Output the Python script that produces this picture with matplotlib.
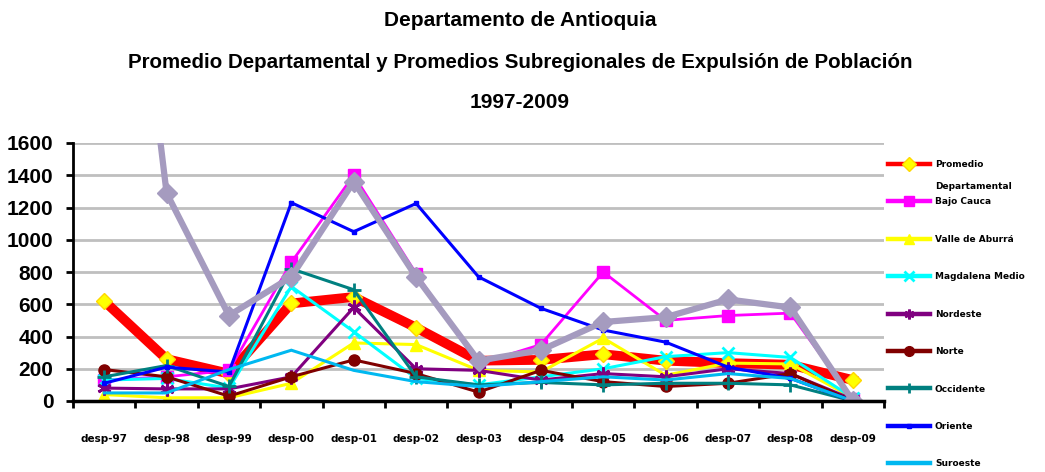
import matplotlib
matplotlib.use("Agg")
import matplotlib.pyplot as plt

categories = ["desp-97", "desp-98", "desp-99", "desp-00", "desp-01", "desp-02", "desp-03",
              "desp-04", "desp-05", "desp-06", "desp-07", "desp-08", "desp-09"]

promedio = [620, 260, 170, 605, 645, 455, 250, 255, 290, 250, 235, 225, 130]
bajo_cauca = [130, 150, 190, 860, 1400, 790, 230, 350, 800, 500, 530, 545, 10]
valle_aburra = [40, 20, 20, 110, 360, 350, 190, 180, 390, 160, 235, 230, 20]
magdalena_medio = [130, 140, 80, 710, 430, 140, 100, 150, 200, 275, 300, 270, 20]
nordeste = [80, 75, 75, 150, 580, 200, 190, 130, 170, 150, 200, 170, 10]
norte = [195, 150, 30, 150, 255, 170, 55, 190, 120, 90, 110, 170, 0]
occidente = [150, 220, 90, 820, 690, 150, 100, 115, 100, 110, 110, 100, 0]
oriente = [110, 210, 180, 1230, 1050, 1225, 770, 575, 440, 365, 210, 140, 0]
suroeste = [50, 50, 195, 315, 190, 120, 90, 120, 150, 130, 170, 140, 0]
uraba = [4500, 1290, 530, 770, 1360, 770, 250, 315, 490, 520, 630, 580, 0]

series_labels = ["Promedio", "Bajo Cauca", "Valle de Aburrá", "Magdalena Medio", "Nordeste",
                 "Norte", "Occidente", "Oriente", "Suroeste", "Urabá"]
yticks = [0, 200, 400, 600, 800, 1000, 1200, 1400, 1600]

plt.rcParams['font.family'] = ['Liberation Sans', 'DejaVu Sans']

fig = plt.figure(figsize=(10.45, 4.72), dpi=100)
ax = fig.add_axes([73/1045, 1-401/472, (884-73)/1045, (401-143)/472])

x = list(range(len(categories)))
styles = [
    (promedio, dict(color="#FF0000", lw=7, marker="D", ms=8, mfc="#FFFF00", mec="#FFD700")),
    (bajo_cauca, dict(color="#FF00FF", lw=2, marker="s", ms=9, mfc="#FF00FF", mec="#FF00FF")),
    (valle_aburra, dict(color="#FFFF00", lw=2.2, marker="^", ms=9, mfc="#FFFF00", mec="#FFFF00")),
    (magdalena_medio, dict(color="#00FFFF", lw=2.2, marker="x", ms=9, mew=2, mec="#00FFFF")),
    (nordeste, dict(color="#800080", lw=2.2, marker=(6, 2, 0), ms=10, mew=2, mec="#800080")),
    (norte, dict(color="#800000", lw=2.2, marker="o", ms=8, mfc="#800000", mec="#800000")),
    (occidente, dict(color="#008080", lw=2.2, marker="+", ms=10, mew=2, mec="#008080")),
    (oriente, dict(color="#0000FF", lw=2.2, marker="s", ms=3, mfc="#0000FF", mec="#0000FF")),
    (suroeste, dict(color="#00B8F0", lw=2.2, marker="None")),
    (uraba, dict(color="#A59BBF", lw=4.5, marker="D", ms=10, mfc="#A59BBF", mec="#A59BBF")),
]
for (vals, st), lab in zip(styles, series_labels):
    ax.plot(x, vals, label=lab, solid_joinstyle="miter", **st)

ax.set_ylim(0, 1600)
ax.set_xlim(-0.5, len(categories) - 0.5)
ax.set_yticks(yticks)
ax.set_yticklabels([str(v) for v in yticks], fontsize=15, fontweight="bold")
ax.set_xticks([i - 0.5 for i in range(len(categories) + 1)])
ax.set_xticklabels([])
ax.set_xticks(x, minor=True)
ax.set_xticklabels(categories, minor=True, fontsize=7.5, fontweight="bold", family="DejaVu Sans")
ax.tick_params(axis="x", which="minor", length=0, pad=24)
ax.tick_params(axis="x", which="major", length=5, width=2, direction="out", color="black")
ax.tick_params(axis="y", length=5, width=2, direction="out", pad=9)
ax.yaxis.grid(True, color="#BFBFBF", lw=2)
ax.set_axisbelow(True)
for s in ["top", "right"]:
    ax.spines[s].set_visible(False)
ax.spines["left"].set_linewidth(2)
ax.spines["bottom"].set_linewidth(2.5)

leg = fig.legend(loc="upper left", bbox_to_anchor=(888/1045, 1-160/472), frameon=False,
                 prop={"family": "DejaVu Sans", "weight": "bold", "size": 6.5},
                 handlelength=4.6, handletextpad=0.6, labelspacing=3.15, borderaxespad=0,
                 borderpad=0)
for h in leg.legend_handles:
    h.set_linewidth(3.2)
    if h.get_markersize() > 7:
        h.set_markersize(7)

fig.canvas.draw()
bb = leg.get_texts()[0].get_window_extent()
fig.text(bb.x0 / 1045, (bb.y0 - 22) / 472, "Departamental", ha="left", va="bottom",
         fontsize=6.5, fontweight="bold", family="DejaVu Sans")

tx = 520/1045
fig.text(tx, 1-20/472, "Departamento de Antioquia", ha="center", va="center",
         fontsize=15, fontweight="bold")
fig.text(tx, 1-62/472, "Promedio Departamental y Promedios Subregionales de Expulsión de Población",
         ha="center", va="center", fontsize=14.8, fontweight="bold")
fig.text(tx, 1-103/472, "1997-2009", ha="center", va="center", fontsize=15, fontweight="bold")

fig.savefig("out.png", dpi=100)
